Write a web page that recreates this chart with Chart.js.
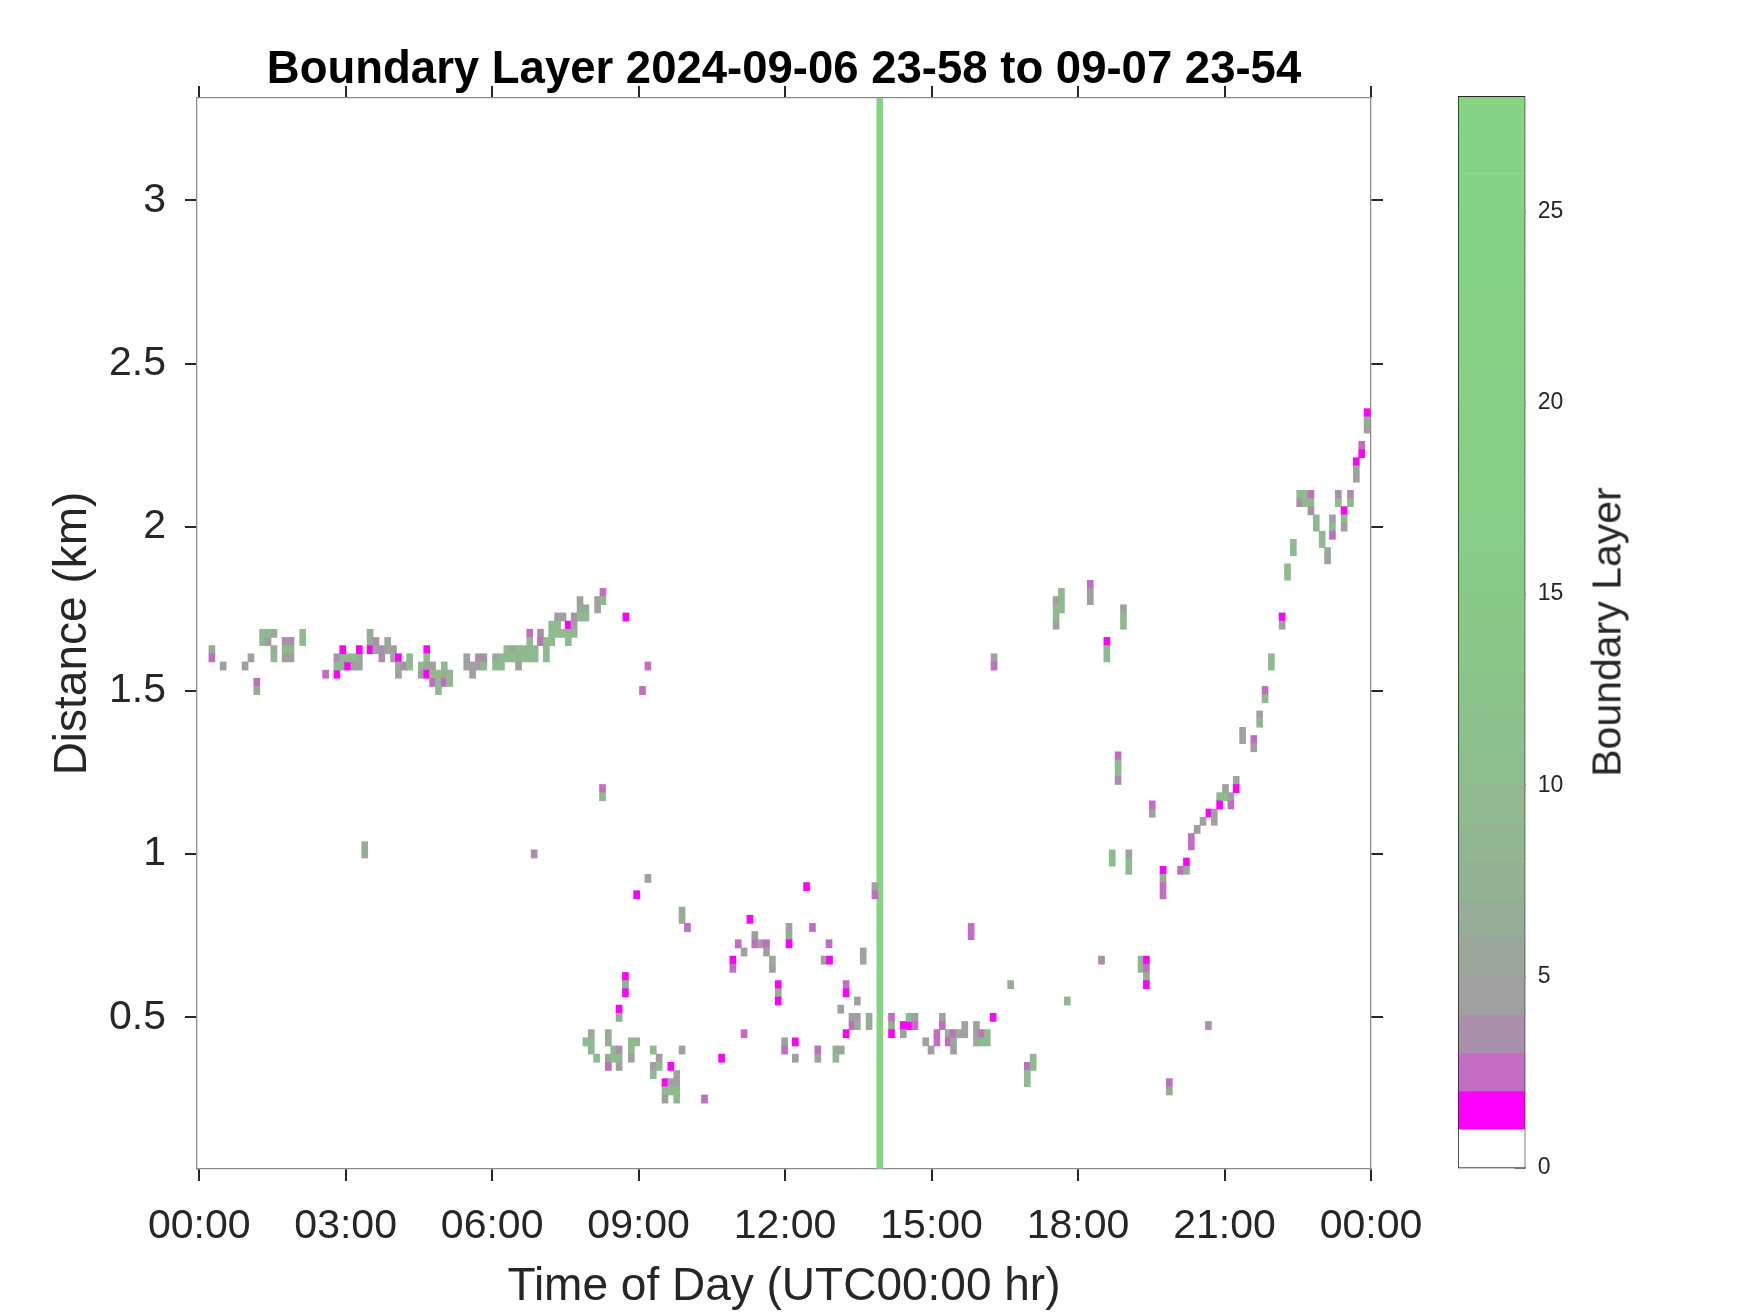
<!DOCTYPE html>
<html>
<head>
<meta charset="utf-8">
<title>Boundary Layer</title>
<script src="https://cdn.jsdelivr.net/npm/chart.js"></script>
<style>
  body { margin: 0; background: #fff; }
  #wrap { position: relative; width: 1750px; height: 1313px; }
  #main { position: absolute; left: 0; top: 0; }
  #bar { position: absolute; left: 1440px; top: 0; }
  #barLabel {
    position: absolute; left: 1607px; top: 632px;
    transform: translate(-50%, -50%) rotate(-90deg);
    font: 41px "Liberation Sans", Arial, sans-serif; color: #262626; white-space: nowrap;
  }
</style>
</head>
<body>
<div id="wrap">
  <canvas id="main" width="1750" height="1313"></canvas>
  <canvas id="bar" width="310" height="1313"></canvas>
  <div id="barLabel">Boundary Layer</div>
</div>
<script>
/* global Chart */
const FONT = '"Liberation Sans", Arial, sans-serif';
const INK = '#262626';
Chart.defaults.font.family = FONT;
Chart.defaults.color = INK;

// Axes
const xTickHours = [0, 3, 6, 9, 12, 15, 18, 21, 24];
const xTickLabels = ['00:00', '03:00', '06:00', '09:00', '12:00', '15:00', '18:00', '21:00', '00:00'];
const yTickKm = [0.5, 1, 1.5, 2, 2.5, 3];
const yTickLabels = ['0.5', '1', '1.5', '2', '2.5', '3'];
const barTicks = [0, 5, 10, 15, 20, 25];
const barLevels = [0, 1, 2, 3, 4, 5, 6, 7, 8, 9, 10, 11, 12, 13, 14, 15, 16, 17, 18, 19, 20, 21, 22, 23, 24, 25, 26, 27];

const hourMin = -0.045;
const hourMax = 24;
const kmMin = 0.036;
const kmMax = 3.313;
const levelMax = 28;

// Boundary layer cells: time (hr), height (km), level
const cellHours = [
  0.26, 0.26, 0.49, 0.94, 1.06, 1.18, 1.18, 1.30, 1.41, 1.53,
  1.30, 1.41, 1.53, 1.53, 1.76, 1.88, 1.76, 1.88, 1.76, 1.88,
  2.12, 2.12, 2.59, 2.82, 2.82, 2.82, 2.94, 2.94, 3.04, 3.06,
  3.17, 3.17, 3.28, 3.28, 2.94, 3.28, 3.50, 3.50, 3.50, 3.62,
  3.62, 3.74, 3.74, 3.86, 3.86, 3.98, 3.98, 4.08, 4.08, 4.08,
  4.20, 4.31, 4.31, 4.55, 4.55, 4.66, 4.66, 4.66, 4.66, 4.78,
  4.78, 4.78, 4.90, 4.90, 4.90, 5.02, 5.02, 5.02, 5.13, 5.13,
  5.48, 5.48, 5.60, 5.60, 5.72, 5.72, 5.83, 5.83, 6.07, 6.07,
  6.19, 6.19, 6.30, 6.30, 6.42, 6.42, 6.54, 6.54, 6.54, 6.65,
  6.65, 6.77, 6.77, 6.77, 6.77, 6.88, 6.88, 6.99, 6.99, 7.11,
  7.11, 7.11, 7.22, 7.22, 7.22, 7.34, 7.34, 7.34, 7.45, 7.45,
  7.56, 7.56, 7.56, 7.68, 7.68, 7.68, 7.80, 7.80, 7.80, 7.92,
  7.92, 8.16, 8.16, 8.27, 8.27, 8.74, 9.19, 9.08, 8.26, 8.26,
  3.39, 3.39, 6.86, 9.19, 8.96, 9.89, 9.89, 10.00, 12.44, 13.84,
  13.84, 11.28, 15.81, 15.81, 12.08, 12.08, 12.08, 12.56, 11.04, 11.38,
  11.38, 11.50, 11.62, 11.62, 11.16, 10.93, 10.93, 11.74, 11.74, 12.90,
  12.80, 12.91, 13.60, 13.60, 8.73, 8.73, 8.73, 11.86, 11.86, 11.86,
  13.25, 13.25, 8.60, 8.60, 13.48, 13.14, 13.37, 13.37, 13.48, 13.48,
  13.72, 13.72, 13.25, 14.18, 14.18, 14.18, 14.42, 14.54, 14.54, 14.66,
  14.66, 14.42, 14.88, 14.99, 15.11, 15.11, 15.22, 15.22, 15.34, 15.34,
  15.45, 15.45, 15.45, 15.56, 15.68, 15.68, 15.92, 15.92, 15.92, 16.03,
  16.03, 16.14, 16.14, 7.92, 8.03, 8.03, 8.03, 8.14, 8.38, 8.38,
  8.38, 8.38, 8.49, 8.49, 8.60, 8.60, 8.60, 8.85, 8.85, 8.85,
  8.96, 9.30, 9.30, 9.30, 9.42, 9.42, 9.89, 9.66, 9.54, 9.54,
  9.54, 9.66, 9.66, 9.78, 9.78, 9.78, 9.78, 10.35, 10.70, 11.16,
  11.99, 11.99, 12.21, 12.21, 12.67, 12.67, 13.04, 13.04, 13.15, 16.26,
  19.74, 19.74, 19.74, 19.74, 20.10, 20.22, 20.22, 18.48, 19.29, 19.29,
  19.40, 19.40, 19.40, 19.40, 16.62, 17.78, 20.67, 16.96, 16.96, 16.96,
  17.08, 17.08, 19.87, 19.87, 17.55, 17.55, 17.55, 17.55, 17.66, 17.66,
  17.66, 18.25, 18.25, 18.25, 18.59, 18.59, 18.59, 18.93, 18.93, 18.93,
  18.82, 18.82, 18.82, 18.82, 19.52, 19.52, 18.70, 18.70, 19.04, 19.04,
  19.04, 20.32, 20.32, 20.44, 20.56, 20.68, 20.79, 20.79, 20.90, 20.90,
  21.02, 21.02, 21.13, 21.13, 21.24, 21.24, 21.37, 21.37, 21.60, 21.60,
  21.72, 21.72, 21.83, 21.83, 21.96, 21.96, 22.18, 22.18, 22.29, 22.29,
  16.28, 16.28, 23.92, 23.92, 23.92, 23.81, 23.81, 23.70, 23.70, 23.70,
  22.54, 22.54, 22.65, 22.65, 22.77, 22.77, 22.77, 22.88, 22.88, 23.00,
  23.00, 23.11, 23.11, 23.21, 23.21, 23.21, 23.33, 23.33, 23.45, 23.45,
  23.45, 23.58, 23.58, 22.41, 22.41
];
const cellKm = [
  1.625, 1.600, 1.575, 1.575, 1.600, 1.525, 1.500, 1.675, 1.675, 1.675,
  1.650, 1.650, 1.625, 1.600, 1.650, 1.650, 1.625, 1.625, 1.600, 1.600,
  1.675, 1.650, 1.550, 1.550, 1.600, 1.575, 1.600, 1.575, 1.575, 1.600,
  1.600, 1.575, 1.600, 1.575, 1.625, 1.625, 1.675, 1.650, 1.625, 1.650,
  1.625, 1.625, 1.600, 1.650, 1.625, 1.625, 1.600, 1.600, 1.575, 1.550,
  1.575, 1.600, 1.575, 1.575, 1.550, 1.625, 1.600, 1.575, 1.550, 1.575,
  1.550, 1.525, 1.550, 1.525, 1.500, 1.575, 1.550, 1.525, 1.550, 1.525,
  1.600, 1.575, 1.575, 1.550, 1.600, 1.575, 1.600, 1.575, 1.600, 1.575,
  1.600, 1.575, 1.625, 1.600, 1.625, 1.600, 1.625, 1.600, 1.575, 1.625,
  1.600, 1.675, 1.650, 1.625, 1.600, 1.625, 1.600, 1.675, 1.650, 1.650,
  1.625, 1.600, 1.700, 1.675, 1.650, 1.725, 1.700, 1.675, 1.725, 1.675,
  1.700, 1.675, 1.650, 1.725, 1.700, 1.675, 1.775, 1.750, 1.725, 1.750,
  1.725, 1.775, 1.750, 1.800, 1.775, 1.725, 1.575, 1.500, 1.200, 1.175,
  1.025, 1.000, 1.000, 0.925, 0.875, 0.825, 0.800, 0.775, 0.900, 0.900,
  0.875, 0.800, 0.775, 0.750, 0.775, 0.750, 0.725, 0.775, 0.725, 0.750,
  0.725, 0.725, 0.725, 0.700, 0.700, 0.675, 0.650, 0.675, 0.650, 0.725,
  0.675, 0.675, 0.700, 0.675, 0.625, 0.600, 0.575, 0.600, 0.575, 0.550,
  0.600, 0.575, 0.525, 0.500, 0.550, 0.525, 0.500, 0.475, 0.500, 0.475,
  0.500, 0.475, 0.450, 0.500, 0.475, 0.450, 0.475, 0.475, 0.500, 0.500,
  0.475, 0.450, 0.425, 0.400, 0.450, 0.425, 0.500, 0.475, 0.450, 0.425,
  0.450, 0.425, 0.400, 0.450, 0.475, 0.450, 0.475, 0.450, 0.425, 0.450,
  0.425, 0.450, 0.425, 0.425, 0.450, 0.425, 0.400, 0.375, 0.450, 0.425,
  0.375, 0.350, 0.400, 0.375, 0.400, 0.375, 0.350, 0.425, 0.400, 0.375,
  0.425, 0.400, 0.350, 0.325, 0.375, 0.350, 0.400, 0.350, 0.300, 0.275,
  0.250, 0.300, 0.275, 0.325, 0.300, 0.275, 0.250, 0.250, 0.375, 0.450,
  0.425, 0.400, 0.425, 0.375, 0.400, 0.375, 0.400, 0.375, 0.400, 0.500,
  0.950, 0.925, 0.900, 0.875, 0.950, 0.975, 0.950, 0.675, 0.675, 0.650,
  0.675, 0.650, 0.625, 0.600, 0.600, 0.550, 0.475, 0.350, 0.325, 0.300,
  0.375, 0.350, 0.300, 0.275, 1.775, 1.750, 1.725, 1.700, 1.800, 1.775,
  1.750, 1.825, 1.800, 1.775, 1.650, 1.625, 1.600, 1.750, 1.725, 1.700,
  1.300, 1.275, 1.250, 1.225, 1.150, 1.125, 1.000, 0.975, 1.000, 0.975,
  0.950, 1.050, 1.025, 1.075, 1.100, 1.125, 1.125, 1.100, 1.175, 1.150,
  1.200, 1.175, 1.175, 1.150, 1.225, 1.200, 1.375, 1.350, 1.350, 1.325,
  1.425, 1.400, 1.500, 1.475, 1.600, 1.575, 1.725, 1.700, 1.875, 1.850,
  1.600, 1.575, 2.350, 2.325, 2.300, 2.250, 2.225, 2.200, 2.175, 2.150,
  2.100, 2.075, 2.100, 2.075, 2.100, 2.075, 2.050, 2.025, 2.000, 1.975,
  1.950, 1.925, 1.900, 2.025, 2.000, 1.975, 2.100, 2.075, 2.050, 2.025,
  2.000, 2.100, 2.075, 1.950, 1.925
];
const cellLevel = [
  6, 2, 4, 4, 4, 2, 6, 9, 9, 6,
  9, 4, 6, 9, 3, 3, 9, 9, 4, 4,
  9, 9, 2, 1, 3, 9, 9, 9, 1, 9,
  9, 4, 6, 4, 1, 1, 6, 6, 1, 3,
  4, 3, 3, 6, 6, 4, 4, 1, 6, 4,
  3, 9, 9, 9, 4, 1, 9, 4, 1, 4,
  9, 2, 9, 9, 9, 9, 6, 2, 9, 9,
  4, 4, 4, 4, 3, 4, 3, 9, 6, 9,
  9, 9, 9, 9, 6, 9, 9, 9, 4, 9,
  9, 2, 9, 9, 9, 9, 9, 3, 2, 9,
  9, 9, 9, 9, 9, 4, 9, 9, 4, 9,
  1, 9, 9, 3, 4, 9, 4, 6, 9, 6,
  9, 4, 4, 2, 9, 1, 2, 2, 2, 9,
  6, 6, 3, 4, 1, 6, 6, 2, 1, 4,
  2, 1, 2, 2, 4, 6, 1, 2, 2, 4,
  2, 4, 2, 4, 4, 1, 2, 6, 4, 2,
  4, 1, 4, 6, 1, 6, 1, 1, 6, 1,
  2, 1, 1, 6, 4, 4, 4, 2, 4, 6,
  6, 6, 1, 2, 6, 1, 1, 1, 9, 4,
  2, 4, 4, 4, 2, 2, 4, 2, 6, 2,
  2, 6, 4, 6, 4, 4, 4, 4, 6, 2,
  9, 9, 9, 9, 6, 9, 9, 9, 6, 6,
  6, 2, 9, 9, 3, 9, 4, 9, 9, 4,
  9, 9, 4, 9, 4, 9, 4, 1, 1, 9,
  4, 4, 9, 4, 4, 9, 9, 2, 1, 2,
  4, 2, 1, 4, 2, 4, 6, 9, 6, 1,
  1, 6, 2, 2, 2, 1, 6, 3, 9, 9,
  1, 2, 6, 1, 6, 9, 3, 2, 9, 9,
  9, 9, 2, 6, 4, 9, 9, 4, 9, 9,
  9, 2, 4, 4, 1, 9, 9, 4, 9, 9,
  2, 9, 9, 3, 2, 4, 9, 9, 4, 9,
  9, 2, 2, 4, 4, 1, 4, 4, 9, 1,
  4, 9, 4, 2, 4, 1, 4, 4, 2, 4,
  4, 9, 2, 9, 9, 9, 1, 4, 9, 9,
  4, 2, 1, 6, 4, 2, 1, 1, 6, 4,
  9, 3, 9, 9, 2, 9, 3, 9, 9, 9,
  9, 6, 4, 4, 9, 2, 3, 9, 1, 9,
  4, 3, 9, 9, 9
];

// profile flagged over the whole range
const fullColumnHours = [13.94];
const fullColumnLevel = [26];

// colour of each level band 0..27
const levelColors = [
  '#ffffff', '#ff00ff', '#c26cc2', '#a98fa9', '#a0a0a0', '#9aa79a', '#96ac96',
  '#93b193', '#91b691', '#8fba8f', '#8dbe8d', '#8bc18b', '#8ac48a', '#89c789',
  '#88c988', '#88cb88', '#87cc87', '#87ce87', '#86cf86', '#86d086', '#86d186',
  '#85d285', '#85d285', '#85d385', '#85d385', '#84d484', '#84d484', '#84d484'
];

const CELL_KM = 0.025;

const cells = [];
const cellColors = [];
fullColumnHours.forEach(function(h, i) {
  cells.push({x: h, y: [kmMin, kmMax]});
  cellColors.push(levelColors[fullColumnLevel[i]]);
});
cellHours.forEach(function(h, i) {
  cells.push({x: h, y: [cellKm[i] - CELL_KM / 2, cellKm[i] + CELL_KM / 2]});
  cellColors.push(levelColors[cellLevel[i]]);
});

function tickGrid() {
  return { drawOnChartArea: false, offset: false, tickLength: 12, color: INK, lineWidth: 2 };
}
function frame(color) {
  return { display: true, color: color || '#8c8c8c', width: 1.3 };
}
function setTicks(values) {
  return function(scale) {
    scale.ticks = values.map(function(v) { return {value: v}; });
  };
}

// Main plot
new Chart(document.getElementById('main'), {
  type: 'bar',
  data: {
    datasets: [{
      data: cells,
      backgroundColor: cellColors,
      borderWidth: 0,
      barThickness: 6
    }]
  },
  options: {
    responsive: false,
    animation: false,
    layout: { padding: { left: 0, right: 182, top: 0, bottom: 0 } },
    plugins: {
      legend: { display: false },
      tooltip: { enabled: false },
      title: {
        display: true,
        text: 'Boundary Layer 2024-09-06 23-58 to 09-07 23-54',
        color: '#000',
        font: { size: 45.5, weight: 'bold', lineHeight: 1.2 },
        padding: { top: 43, bottom: 0 }
      }
    },
    scales: {
      x: {
        type: 'linear', position: 'bottom', min: hourMin, max: hourMax,
        bounds: 'data', offset: false,
        afterBuildTicks: setTicks(xTickHours),
        afterFit: function(s) { s.height = 144; },
        grid: tickGrid(),
        border: frame(),
        ticks: {
          autoSkip: false, maxRotation: 0, padding: 21,
          font: { size: 41 },
          callback: function(v, i) { return xTickLabels[i]; }
        },
        title: {
          display: true, text: 'Time of Day (UTC00:00 hr)',
          font: { size: 46, lineHeight: 1.1 }, padding: { top: 0, bottom: 0 }
        }
      },
      xTop: {
        type: 'linear', axis: 'x', position: 'top', min: hourMin, max: hourMax,
        bounds: 'data', offset: false,
        afterBuildTicks: setTicks(xTickHours),
        afterFit: function(s) { s.height = 0.4; },
        grid: tickGrid(),
        border: frame(),
        ticks: { display: false }
      },
      y: {
        type: 'linear', position: 'left', min: kmMin, max: kmMax, bounds: 'data',
        afterBuildTicks: setTicks(yTickKm),
        afterFit: function(s) { s.width = 197; },
        grid: tickGrid(),
        border: frame(),
        ticks: {
          padding: 19, font: { size: 41 },
          callback: function(v, i) { return yTickLabels[i]; }
        },
        title: {
          display: true, text: 'Distance (km)',
          font: { size: 46 }, padding: { top: 46, bottom: 0 }
        }
      },
      yRight: {
        type: 'linear', axis: 'y', position: 'right', min: kmMin, max: kmMax, bounds: 'data',
        afterBuildTicks: setTicks(yTickKm),
        afterFit: function(s) { s.width = 197; },
        grid: tickGrid(),
        border: frame(),
        ticks: { display: false }
      }
    }
  }
});

// Colour bar
new Chart(document.getElementById('bar'), {
  type: 'bar',
  data: {
    datasets: [{
      data: barLevels.map(function(l) { return {x: 0, y: [l, l + 1]}; }),
      backgroundColor: barLevels.map(function(l) { return levelColors[l]; }),
      borderWidth: 0,
      barThickness: 66
    }]
  },
  options: {
    responsive: false,
    animation: false,
    layout: { padding: { left: 18.7, right: 0, top: 97, bottom: 145.5 } },
    plugins: { legend: { display: false }, tooltip: { enabled: false } },
    scales: {
      x: {
        type: 'linear', position: 'bottom', min: -0.5, max: 0.5, offset: false,
        afterFit: function(s) { s.height = 0; },
        grid: { display: false, drawTicks: false },
        border: frame(INK),
        ticks: { display: false }
      },
      xTop: {
        type: 'linear', axis: 'x', position: 'top', min: -0.5, max: 0.5, offset: false,
        afterFit: function(s) { s.height = 0; },
        grid: { display: false, drawTicks: false },
        border: frame(INK),
        ticks: { display: false }
      },
      yLeft: {
        type: 'linear', axis: 'y', position: 'left', min: 0, max: levelMax,
        afterFit: function(s) { s.width = 0; },
        grid: { display: false, drawTicks: false },
        border: frame(INK),
        ticks: { display: false }
      },
      y: {
        type: 'linear', position: 'right', min: 0, max: levelMax, bounds: 'data',
        afterBuildTicks: setTicks(barTicks),
        afterFit: function(s) { s.width = 225.3; },
        grid: { drawOnChartArea: false, tickLength: -10, color: INK, lineWidth: 1.5 },
        border: frame(INK),
        ticks: { padding: 23, font: { size: 23 } }
      }
    }
  }
});
</script>
</body>
</html>
